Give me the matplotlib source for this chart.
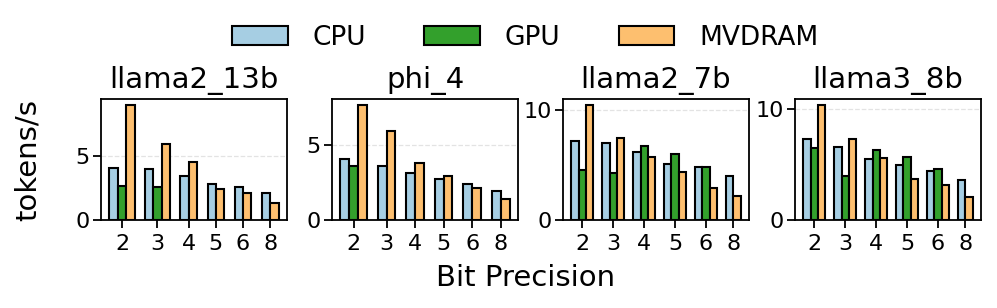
import numpy as np
import matplotlib.pyplot as plt

# valeurs (tokens/s), None = pas de barre
bits = ["2", "3", "4", "5", "6", "8"]
modeles = ["llama2_13b", "phi_4", "llama2_7b", "llama3_8b"]

cpu_13b = [4.1, 4.0, 3.4, 2.85, 2.6, 2.1]
gpu_13b = [2.65, 2.55, None, None, None, None]
mvd_13b = [9.0, 5.9, 4.5, 2.45, 2.1, 1.35]

cpu_phi = [4.05, 3.6, 3.15, 2.7, 2.4, 1.95]
gpu_phi = [3.6, None, None, None, None, None]
mvd_phi = [7.65, 5.9, 3.8, 2.9, 2.15, 1.4]

cpu_7b = [7.2, 7.0, 6.2, 5.1, 4.85, 3.95]
gpu_7b = [4.55, 4.25, 6.75, 6.0, 4.85, None]
mvd_7b = [10.45, 7.45, 5.7, 4.35, 2.9, 2.15]

cpu_8b = [7.25, 6.55, 5.5, 4.9, 4.4, 3.55]
gpu_8b = [6.45, 3.95, 6.3, 5.65, 4.6, None]
mvd_8b = [10.35, 7.3, 5.55, 3.65, 3.15, 2.05]

donnees = [
    (cpu_13b, gpu_13b, mvd_13b),
    (cpu_phi, gpu_phi, mvd_phi),
    (cpu_7b, gpu_7b, mvd_7b),
    (cpu_8b, gpu_8b, mvd_8b),
]
noms = ["CPU", "GPU", "MVDRAM"]
couleurs = ["#a6cee3", "#33a02c", "#fdbf6f"]
yticks = [[0, 5], [0, 5], [0, 10], [0, 10]]

largeur = 0.8
ecart = 1.0

fig = plt.figure(figsize=(9.97, 3.08), dpi=100)
lefts = [101, 332, 563, 795]
poignees = {}
for k, (serie, nom) in enumerate(zip(donnees, modeles)):
    ax = fig.add_axes([lefts[k] / 997, 1 - 220 / 308, 186 / 997, 121 / 308])
    x = 0.0
    centres = []
    for i in range(len(bits)):
        pos = []
        for j in range(3):
            v = serie[j][i]
            if v is None:
                continue
            b = ax.bar(x + largeur / 2, v, width=largeur, color=couleurs[j],
                       edgecolor="black", linewidth=1.5, zorder=3)
            poignees[noms[j]] = b
            pos.append(x + largeur / 2)
            x += largeur
        centres.append(np.mean(pos))
        x += ecart
    ax.set_xticks(centres)
    ax.set_xticklabels(bits, fontsize=16)
    ax.set_yticks(yticks[k])
    ax.tick_params(axis="y", labelsize=16, width=1.3, length=6, pad=2)
    ax.tick_params(axis="x", width=1.3, length=6, pad=4)
    ax.grid(axis="y", linestyle="--", color="#e3e3e3", linewidth=0.9, zorder=0)
    ax.set_axisbelow(True)
    for s in ax.spines.values():
        s.set_linewidth(1.3)
    ax.set_title(nom, fontsize=21, pad=8)

fig.legend([poignees[n] for n in noms], noms, loc="center", bbox_to_anchor=(0.527, 1 - 38 / 308),
           ncol=3, frameon=False, fontsize=19, handlelength=2.1, handleheight=0.75,
           handletextpad=0.95, columnspacing=2.2)
fig.text(28 / 997, 1 - 160 / 308, "tokens/s", rotation=90, ha="center", va="center", fontsize=21)
fig.text(526 / 997, 1 - 286 / 308, "Bit Precision", ha="center", va="baseline", fontsize=21)

fig.savefig("out.png", dpi=100)
